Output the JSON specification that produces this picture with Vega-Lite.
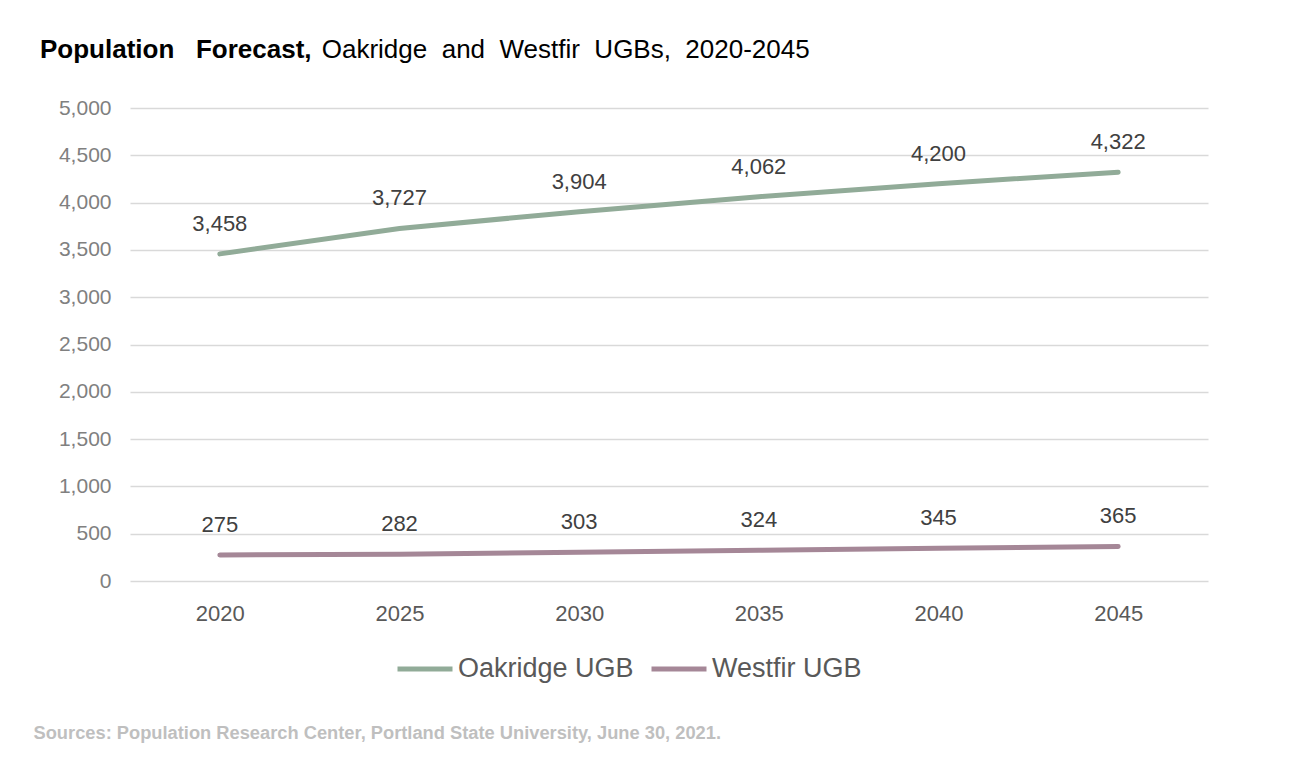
{
  "$schema": "https://vega.github.io/schema/vega-lite/v6.json",
  "autosize": {"type": "none"},
  "width": 1078,
  "height": 473,
  "padding": {"left": 130, "top": 108, "right": 94, "bottom": 179},
  "background": "white",
  "title": {
    "text": "Population\u00a0\u00a0\u00a0Forecast,",
    "subtitle": "\u200b\u00a0\u00a0\u00a0\u00a0\u00a0\u00a0\u00a0\u00a0\u00a0\u00a0\u00a0\u00a0\u00a0\u00a0\u00a0\u00a0\u00a0\u00a0\u00a0\u00a0\u00a0\u00a0\u00a0\u00a0\u00a0\u00a0\u00a0\u00a0\u00a0\u00a0\u00a0\u00a0\u00a0\u00a0\u00a0\u00a0\u00a0\u00a0\u00a0Oakridge\u00a0 and\u00a0 Westfir\u00a0 UGBs,\u00a0 2020-2045",
    "anchor": "start",
    "frame": "group",
    "dx": -90,
    "offset": 34,
    "font": "Liberation Sans",
    "fontSize": 26,
    "fontWeight": "bold",
    "color": "#000000",
    "subtitleFont": "Liberation Sans",
    "subtitleFontSize": 26,
    "subtitleFontWeight": "normal",
    "subtitleColor": "#000000",
    "subtitlePadding": -26
  },
  "data": {
    "values": [
      {"year": "2020", "series": "Oakridge UGB", "population": 3458},
      {"year": "2025", "series": "Oakridge UGB", "population": 3727},
      {"year": "2030", "series": "Oakridge UGB", "population": 3904},
      {"year": "2035", "series": "Oakridge UGB", "population": 4062},
      {"year": "2040", "series": "Oakridge UGB", "population": 4200},
      {"year": "2045", "series": "Oakridge UGB", "population": 4322},
      {"year": "2020", "series": "Westfir UGB", "population": 275},
      {"year": "2025", "series": "Westfir UGB", "population": 282},
      {"year": "2030", "series": "Westfir UGB", "population": 303},
      {"year": "2035", "series": "Westfir UGB", "population": 324},
      {"year": "2040", "series": "Westfir UGB", "population": 345},
      {"year": "2045", "series": "Westfir UGB", "population": 365}
    ]
  },
  "encoding": {
    "x": {
      "field": "year",
      "type": "ordinal",
      "scale": {"type": "point", "padding": 0.5},
      "axis": {
        "labelAngle": 0,
        "labelFont": "Liberation Sans",
        "labelFontSize": 22,
        "labelColor": "#595959",
        "labelPadding": 22,
        "ticks": false,
        "domain": false,
        "grid": false,
        "title": "Sources: Population Research Center, Portland State University, June 30, 2021.",
        "titleFont": "Liberation Sans",
        "titleFontSize": 18.3,
        "titleFontWeight": "bold",
        "titleColor": "#bfbfbf",
        "titleAnchor": "start",
        "titleAlign": "left",
        "titleBaseline": "middle",
        "titleX": -97,
        "titleY": 152
      }
    },
    "y": {
      "field": "population",
      "type": "quantitative",
      "scale": {"domain": [0, 5000]},
      "axis": {
        "values": [0, 500, 1000, 1500, 2000, 2500, 3000, 3500, 4000, 4500, 5000],
        "format": ",.0f",
        "labelFont": "Liberation Sans",
        "labelFontSize": 21,
        "labelColor": "#808080",
        "labelPadding": 19,
        "ticks": false,
        "domain": false,
        "grid": true,
        "gridColor": "#d9d9d9",
        "gridWidth": 1.5,
        "title": null
      }
    },
    "color": {
      "field": "series",
      "type": "nominal",
      "scale": {"domain": ["Oakridge UGB", "Westfir UGB"], "range": ["#91ab98", "#a58797"]},
      "legend": {
        "orient": "none",
        "legendX": 265,
        "legendY": 531,
        "direction": "horizontal",
        "title": null,
        "symbolType": "stroke",
        "symbolSize": 3025,
        "symbolStrokeWidth": 5,
        "labelFont": "Liberation Sans",
        "labelFontSize": 27,
        "labelColor": "#595959",
        "labelLimit": 400,
        "labelOffset": 3,
        "columnPadding": 7
      }
    }
  },
  "layer": [
    {"mark": {"type": "line", "strokeWidth": 5, "strokeCap": "round"}},
    {
      "mark": {"type": "text", "dy": -23, "baseline": "alphabetic", "font": "Liberation Sans", "fontSize": 22},
      "encoding": {
        "text": {"field": "population", "type": "quantitative", "format": ",.0f"},
        "color": {"value": "#404040"}
      }
    }
  ],
  "config": {"view": {"stroke": null}}
}
